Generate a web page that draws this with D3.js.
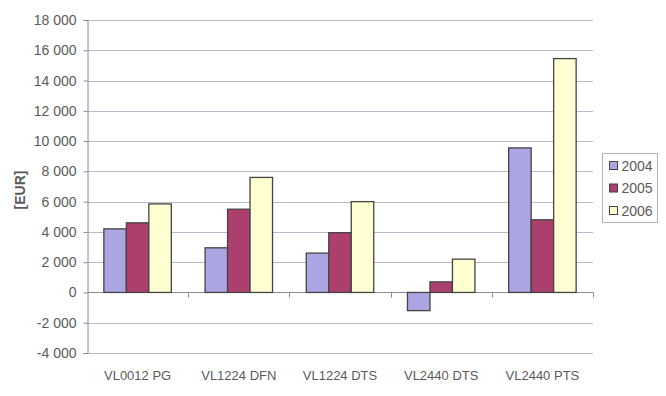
<!DOCTYPE html>
<html>
<head>
<meta charset="utf-8">
<script src="https://cdn.jsdelivr.net/npm/d3@7"></script>
<style>
  body { margin: 0; background: #fff; }
  text { font-family: "Liberation Sans", Arial, sans-serif; fill: #5a5a5a; }
</style>
</head>
<body>
<div id="chart"></div>
<script>
// values, in EUR
const categories = ["VL0012 PG", "VL1224 DFN", "VL1224 DTS", "VL2440 DTS", "VL2440 PTS"];
const years = ["2004", "2005", "2006"];
const values2004 = [4200, 2950, 2600, -1200, 9550];
const values2005 = [4600, 5500, 3950, 700, 4800];
const values2006 = [5850, 7600, 6000, 2200, 15450];
const yTicks = [-4000, -2000, 0, 2000, 4000, 6000, 8000, 10000, 12000, 14000, 16000, 18000];
const colors = ["#aba5e2", "#ac3f6e", "#ffffd2"];

const width = 666, height = 396;
const margin = { left: 87, right: 73, top: 20, bottom: 43 };

const series = [values2004, values2005, values2006];
const rows = categories.map((c, i) => ({ cat: c, vals: series.map(s => s[i]) }));

const svg = d3.select("#chart").append("svg")
    .attr("width", width)
    .attr("height", height);

const x = d3.scaleBand()
    .domain(categories)
    .range([margin.left, width - margin.right]);

// gap width 150% like the excel default look
const x1 = d3.scaleBand()
    .domain(years)
    .range([0, x.bandwidth()])
    .paddingOuter(0.75)
    .paddingInner(0);

const y = d3.scaleLinear()
    .domain([-4000, 18000])
    .range([height - margin.bottom, margin.top]);

// "18 000" style, plain hyphen for negatives
const fmt = d => d3.format(",")(d).replace(/,/g, " ").replace("\u2212", "-");

// gridlines
svg.append("g")
    .selectAll("line")
    .data(yTicks)
    .join("line")
    .attr("x1", margin.left)
    .attr("x2", width - margin.right)
    .attr("y1", d => Math.round(y(d)) + 0.5)
    .attr("y2", d => Math.round(y(d)) + 0.5)
    .attr("stroke", "#b9b9cf")
    .attr("stroke-width", 1);

// y axis
const yAxis = d3.axisLeft(y)
    .tickValues(yTicks)
    .tickSize(4)
    .tickPadding(7)
    .tickFormat(fmt);

const gy = svg.append("g")
    .attr("transform", `translate(${margin.left + 0.5},0)`)
    .call(yAxis);
gy.select(".domain").attr("stroke", "#8a8a9a");
gy.selectAll(".tick line").attr("stroke", "#8a8a9a");
gy.selectAll(".tick text")
    .attr("font-size", 14)
    .attr("fill", "#5a5a5a")
    .attr("font-family", "Liberation Sans, Arial, sans-serif");

// category axis crosses at zero
const zeroY = Math.round(y(0)) + 0.5;
const gx = svg.append("g")
    .attr("transform", `translate(0,${zeroY})`);
gx.append("line")
    .attr("x1", margin.left)
    .attr("x2", width - margin.right)
    .attr("stroke", "#8a8a9a");
// excel puts category ticks between groups
gx.selectAll("line.sep")
    .data(categories.slice(1).map(c => x(c)).concat([x.range()[1]]))
    .join("line")
    .attr("class", "sep")
    .attr("x1", d => Math.round(d) + 0.5)
    .attr("x2", d => Math.round(d) + 0.5)
    .attr("y1", 0)
    .attr("y2", 5)
    .attr("stroke", "#8a8a9a");

// category labels at the bottom
svg.append("g")
    .selectAll("text")
    .data(categories)
    .join("text")
    .attr("x", d => x(d) + x.bandwidth() / 2)
    .attr("y", height - margin.bottom + 27)
    .attr("text-anchor", "middle")
    .attr("font-size", 13)
    .text(d => d);

// bars
const groups = svg.append("g")
    .selectAll("g")
    .data(rows)
    .join("g")
    .attr("transform", d => `translate(${x(d.cat)},0)`);

groups.selectAll("rect")
    .data(d => d.vals.map((v, i) => ({ year: years[i], v: v, i: i })))
    .join("rect")
    .attr("x", d => x1(d.year))
    .attr("width", x1.bandwidth())
    .attr("y", d => y(Math.max(0, d.v)))
    .attr("height", d => Math.abs(y(d.v) - y(0)))
    .attr("fill", d => colors[d.i])
    .attr("stroke", "#444")
    .attr("stroke-width", 1.3);

// axis title
svg.append("text")
    .attr("transform", "translate(25,190) rotate(-90)")
    .attr("text-anchor", "middle")
    .attr("font-size", 14)
    .attr("font-weight", "bold")
    .attr("fill", "#444")
    .text("[EUR]");

// legend
const legend = svg.append("g").attr("transform", "translate(602.5,153.5)");
legend.append("rect")
    .attr("width", 55)
    .attr("height", 69)
    .attr("fill", "#fff")
    .attr("stroke", "#b0b0c8");
legend.selectAll("g")
    .data(years)
    .join("g")
    .attr("transform", (d, i) => `translate(7,${12 + i * 22.5})`)
    .call(g => g.append("rect")
        .attr("x", 0).attr("y", -4)
        .attr("width", 8).attr("height", 8)
        .attr("fill", (d, i) => colors[i])
        .attr("stroke", "#444"))
    .call(g => g.append("text")
        .attr("x", 12)
        .attr("y", 5)
        .attr("font-size", 14)
        .text(d => d));
</script>
</body>
</html>
